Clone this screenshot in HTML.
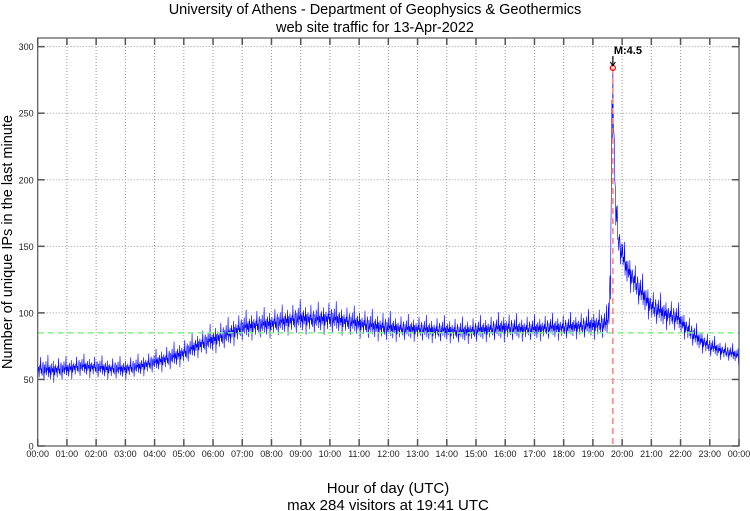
<!DOCTYPE html>
<html><head><meta charset="utf-8"><style>
html,body{margin:0;padding:0;background:#fff}
svg{display:block;font-family:"Liberation Sans",sans-serif}
</style></head><body>
<svg id="chart" width="750" height="511" viewBox="0 0 750 511">
<text x="375" y="14" font-size="14.5" text-anchor="middle">University of Athens - Department of Geophysics &amp; Geothermics</text>
<text x="375" y="32" font-size="14.5" text-anchor="middle">web site traffic for 13-Apr-2022</text>
<text transform="translate(12,242) rotate(-90)" font-size="14.5" text-anchor="middle">Number of unique IPs in the last minute</text>
<text x="388" y="493" font-size="15" text-anchor="middle">Hour of day (UTC)</text>
<text x="388" y="510" font-size="15" text-anchor="middle">max 284 visitors at 19:41 UTC</text>
<g id="grid"></g><g id="series"></g><g id="overlay"></g><g id="axes"></g>
</svg>
<script>
const hours = [0,0.5,1,1.5,2,2.5,3,3.5,4,4.5,5,5.5,6,6.5,7,7.5,8,8.5,9,9.5,10,10.5,11,11.5,12,12.5,13,13.5,14,14.5,15,15.5,16,16.5,17,17.5,18,18.5,19,19.5,19.6,19.65,19.683,19.72,19.78,19.87,20.1,20.6,21,21.3,21.9,22.5,23,23.5,24];
const means = [58,57,58,60,59,58,58,60,63,66,70,76,80,84,89,91,92,94,96,95,96,94,92,90,89,88,88,87,87,86,87,88,89,88,88,89,89,90,91,92,120,240,270,230,180,155,136,117,105,101,96,82,75,71,68];
const spreads = [7,7,6,6,6,6,6,6,6,7,7,7,8,8,8,8,8,8,9,8,9,8,8,8,8,7,7,7,7,7,7,7,8,7,7,7,7,7,8,9,20,20,15,20,15,10,10,10,9,9,8,7,6,5,5];
const yTicks = [0,50,100,150,200,250,300];
const xTickLabels = ["00:00","01:00","02:00","03:00","04:00","05:00","06:00","07:00","08:00","09:00","10:00","11:00","12:00","13:00","14:00","15:00","16:00","17:00","18:00","19:00","20:00","21:00","22:00","23:00","00:00"];
const refLevel = [85];
const peak = [19.683, 284];
const jitter = [0.6,-0.3,0.2,-0.9,0.4,-0.1,1.3,-0.5,0.1,-0.7,0.3,0.8,-0.2,-1.2,0.5,-0.4,0.0,0.9,-0.6,0.2,-0.1,1.6,-0.8,0.3,-0.3,0.5,-1.0,0.1,0.7,-0.5,0.2,-0.2,1.0,-1.4,0.4,-0.6,0.1];

const L=37.7,R=739,T=38,B=446,YMAX=306.5;
const xs=h=>L+h/24*(R-L);
const ys=v=>B-v/YMAX*(B-T);
const NS="http://www.w3.org/2000/svg";
function mk(tag,attrs,parent){const e=document.createElementNS(NS,tag);for(const k in attrs)e.setAttribute(k,attrs[k]);parent.appendChild(e);return e;}
const grid=document.getElementById('grid'),axes=document.getElementById('axes'),ser=document.getElementById('series'),ov=document.getElementById('overlay');
xTickLabels.forEach((lab,i)=>{const x=xs(i);
 if(i>0&&i<24){const g=mk('line',{x1:x,x2:x,y1:T,y2:B,stroke:'#999','stroke-dasharray':'1,2','stroke-width':1},grid);
 }
 const t1=mk('line',{x1:x,x2:x,y1:B,y2:B-7,stroke:'#555','stroke-width':1.5},axes);
 
 const t2=mk('line',{x1:x,x2:x,y1:T,y2:T+7,stroke:'#555','stroke-width':1.5},axes);
 
 const tx=mk('text',{x:x,y:B+11,'font-size':9,'text-anchor':'middle',fill:'#222'},axes);tx.textContent=lab;
 
});
yTicks.forEach(v=>{const y=ys(v);
 if(v>0){const g=mk('line',{x1:L,x2:R,y1:y,y2:y,stroke:'#999','stroke-dasharray':'1,2','stroke-width':1},grid);
 }
 const t1=mk('line',{x1:L,x2:L+7,y1:y,y2:y,stroke:'#555','stroke-width':1.5},axes);
 
 const t2=mk('line',{x1:R,x2:R-7,y1:y,y2:y,stroke:'#555','stroke-width':1.5},axes);
 
 const tx=mk('text',{x:L-4,y:y+3.5,'font-size':9,'text-anchor':'end',fill:'#222'},axes);tx.textContent=v;
 
});
const frame=mk('rect',{x:L,y:T,width:R-L,height:B-T,fill:'none',stroke:'#555','stroke-width':1.2},axes);

let pts=[];
for(let m=0;m<=1440;m++){const h=m/60;let i=0;while(i<hours.length-2&&hours[i+1]<h)i++;
 const f=Math.min(1,Math.max(0,(h-hours[i])/(hours[i+1]-hours[i])));
 const mv=means[i]+(means[i+1]-means[i])*f, sp=spreads[i]+(spreads[i+1]-spreads[i])*f;
 let v=mv+sp*jitter[m%jitter.length];
 if(m===Math.round(peak[0]*60))v=peak[1];
 pts.push(xs(h).toFixed(2)+','+ys(v).toFixed(2));}
const line=mk('polyline',{points:pts.join(' '),fill:'none',stroke:'#0000ff','stroke-width':0.6},ser);

const ref=mk('line',{x1:L,x2:R,y1:ys(refLevel[0]),y2:ys(refLevel[0]),stroke:'#80f080','stroke-width':1.5,'stroke-dasharray':'6,4'},ov);

const vl=mk('line',{x1:xs(peak[0]),x2:xs(peak[0]),y1:ys(peak[1]),y2:B,stroke:'#ff8080','stroke-width':1.5,'stroke-dasharray':'6,4'},ov);

const c=mk('circle',{cx:xs(peak[0]),cy:ys(peak[1]),r:2.5,fill:'none',stroke:'#e00','stroke-width':1.2},ov);

const ar=mk('line',{x1:xs(peak[0]),x2:xs(peak[0]),y1:ys(peak[1])-12,y2:ys(peak[1])-3,stroke:'#000','stroke-width':1.2},ov);

const ah=mk('path',{d:`M${xs(peak[0])-2.5},${ys(peak[1])-6} L${xs(peak[0])},${ys(peak[1])-2} L${xs(peak[0])+2.5},${ys(peak[1])-6}`,fill:'none',stroke:'#000','stroke-width':1},ov);

const lb=mk('text',{x:xs(peak[0])+1,y:ys(peak[1])-14,'font-size':11,'font-weight':'bold','text-anchor':'start'},ov);lb.textContent='M:4.5';

</script>
</body></html>
